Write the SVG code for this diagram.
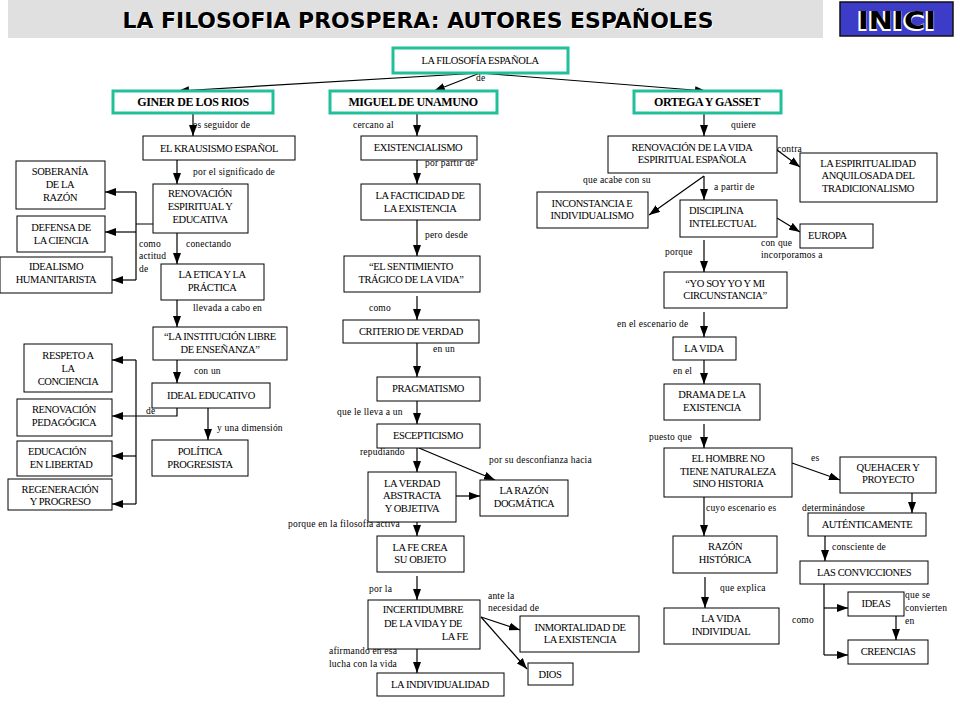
<svg xmlns="http://www.w3.org/2000/svg" width="960" height="720" viewBox="0 0 960 720">
<defs>
<marker id="a" markerWidth="11" markerHeight="8" refX="11" refY="4" orient="auto" markerUnits="userSpaceOnUse"><path d="M0,0 L11,4 L0,8 z" fill="#000"/></marker>
</defs>
<style>
.n rect{fill:#fff;stroke:#000;stroke-width:1}
.k rect{fill:#fff;stroke:#22c09a;stroke-width:3}
.n text,.k text,.l text{font-family:"Liberation Serif","Times New Roman",serif;fill:#000}
.n text,.k text{font-size:10.5px;text-anchor:middle;letter-spacing:-0.4px}
.k .b{font-size:12px;font-weight:bold}
.l text{font-size:9.5px;letter-spacing:0.2px}
.c path{stroke:#000;stroke-width:1.2;fill:none}
.c .ar{marker-end:url(#a)}
.h{font-family:"DejaVu Sans",Verdana,sans-serif;font-weight:bold;text-anchor:middle}
</style>
<rect width="960" height="720" fill="#fff"/>
<g id="header">
<rect x="8" y="0" width="815" height="38" fill="#e0e0e0"/>
<text class="h" x="419" y="29" font-size="21" textLength="591" lengthAdjust="spacingAndGlyphs" fill="#fff">LA FILOSOFIA PROSPERA: AUTORES ESPAÑOLES</text>
<text class="h" x="418" y="28" font-size="21" textLength="591" lengthAdjust="spacingAndGlyphs" fill="#000">LA FILOSOFIA PROSPERA: AUTORES ESPAÑOLES</text>
</g>
<g id="inici">
<rect x="840" y="2" width="113" height="34" fill="#3c3cc8" stroke="#111" stroke-width="1.5"/>
<text class="h" x="896" y="30" font-size="24" textLength="78" lengthAdjust="spacingAndGlyphs" fill="#fff" stroke="#fff" stroke-width="2">INICI</text>
<text class="h" x="897" y="29" font-size="24" textLength="78" lengthAdjust="spacingAndGlyphs" fill="#000">INICI</text>
</g>

<g class="c" id="connectors">
<path class="ar" d="M480,73 L178,91"/>
<path class="ar" d="M480,73 L434,91"/>
<path class="ar" d="M480,73 L706,91"/>
<path class="ar" d="M193,113 V136"/>
<path class="ar" d="M177,160 V184"/>
<path d="M153,224 H136 M136,192 V280"/>
<path class="ar" d="M136,192 H105"/>
<path class="ar" d="M136,232 H105"/>
<path class="ar" d="M136,280 H112"/>
<path class="ar" d="M177,233 V264"/>
<path class="ar" d="M177,300 V327"/>
<path class="ar" d="M177,360 V383"/>
<path class="ar" d="M177,408 V416 H112"/>
<path d="M136,360 V504"/>
<path class="ar" d="M136,360 H112"/>
<path class="ar" d="M136,456 H112"/>
<path class="ar" d="M136,504 H112"/>
<path class="ar" d="M208,408 V440"/>
<path class="ar" d="M417,113 V136"/>
<path class="ar" d="M417,160 V184"/>
<path class="ar" d="M417,220 V256"/>
<path class="ar" d="M417,296 V320"/>
<path class="ar" d="M417,343 V377"/>
<path class="ar" d="M417,401 V424"/>
<path class="ar" d="M417,448 V472"/>
<path class="ar" d="M419,448 L495,480"/>
<path class="ar" d="M456,496 H480"/>
<path class="ar" d="M417,522 V536"/>
<path class="ar" d="M417,576 V600"/>
<path class="ar" d="M417,649 V673"/>
<path class="ar" d="M481,617 L520,630"/>
<path class="ar" d="M481,617 L527,669"/>
<path class="ar" d="M704,113 V136"/>
<path class="ar" d="M777,150 L800,167"/>
<path class="ar" d="M704,176 L649,215"/>
<path class="ar" d="M704,176 V200"/>
<path class="ar" d="M777,218 L800,232"/>
<path class="ar" d="M704,240 V272"/>
<path class="ar" d="M704,312 V337"/>
<path class="ar" d="M704,360 V384"/>
<path class="ar" d="M704,424 V448"/>
<path class="ar" d="M792,463 L840,480"/>
<path class="ar" d="M912,493 V513"/>
<path class="ar" d="M704,497 V536"/>
<path class="ar" d="M705,577 V608"/>
<path class="ar" d="M825,536 V561"/>
<path d="M824,584 V655"/>
<path class="ar" d="M824,608 H848"/>
<path class="ar" d="M824,655 H848"/>
<path class="ar" d="M896,616 V640"/>
</g>

<g class="l" id="labels">
<text x="476" y="81">de</text>
<text x="193" y="128">es seguidor de</text>
<text x="193" y="175">por el significado de</text>
<text x="139" y="247">como</text>
<text x="139" y="259">actitud</text>
<text x="139" y="272">de</text>
<text x="186" y="247">conectando</text>
<text x="193" y="311">llevada a cabo en</text>
<text x="194" y="374">con un</text>
<text x="146" y="414">de</text>
<text x="217" y="431">y una dimensión</text>
<text x="353" y="128">cercano al</text>
<text x="425" y="166">por partir de</text>
<text x="425" y="238">pero desde</text>
<text x="369" y="311">como</text>
<text x="433" y="352">en un</text>
<text x="337" y="415">que le lleva a un</text>
<text x="360" y="455">repudiando</text>
<text x="489" y="463">por su desconfianza hacia</text>
<text x="288" y="527">porque en la filosofía activa</text>
<text x="369" y="592">por la</text>
<text x="488" y="599">ante la</text>
<text x="488" y="611">necesidad de</text>
<text x="329" y="654">afirmando en esa</text>
<text x="329" y="667">lucha con la vida</text>
<text x="731" y="128">quiere</text>
<text x="777" y="152">contra</text>
<text x="583" y="183">que acabe con su</text>
<text x="714" y="190">a partir de</text>
<text x="761" y="246">con que</text>
<text x="761" y="258">incorporamos a</text>
<text x="665" y="255">porque</text>
<text x="617" y="327">en el escenario de</text>
<text x="673" y="374">en el</text>
<text x="649" y="440">puesto que</text>
<text x="811" y="461">es</text>
<text x="706" y="511">cuyo escenario es</text>
<text x="802" y="511">determinándose</text>
<text x="832" y="550">consciente de</text>
<text x="720" y="591">que explica</text>
<text x="792" y="623">como</text>
<text x="905" y="598">que se</text>
<text x="905" y="611">convierten</text>
<text x="905" y="624">en</text>
</g>

<g class="k" id="n-filosofia"><rect x="393" y="48" width="175" height="25"/><text x="480" y="64">LA FILOSOFÍA ESPAÑOLA</text></g>
<g class="k" id="n-giner"><rect x="113" y="91" width="160" height="22"/><text class="b" x="193" y="106">GINER DE LOS RIOS</text></g>
<g class="k" id="n-miguel"><rect x="330" y="91" width="167" height="22"/><text class="b" x="413" y="106">MIGUEL DE UNAMUNO</text></g>
<g class="k" id="n-ortega"><rect x="634" y="91" width="147" height="22"/><text class="b" x="707" y="106">ORTEGA Y GASSET</text></g>

<g class="n" id="n-krausismo"><rect x="143" y="136" width="152" height="24"/><text x="219" y="152">EL KRAUSISMO ESPAÑOL</text></g>
<g class="n" id="n-renovesp"><rect x="153" y="184" width="95" height="49"/><text x="200" y="197">RENOVACIÓN</text><text x="200" y="210">ESPIRITUAL Y</text><text x="200" y="223">EDUCATIVA</text></g>
<g class="n" id="n-soberania"><rect x="16" y="161" width="89" height="48"/><text x="60" y="175">SOBERANÍA</text><text x="60" y="188">DE LA</text><text x="60" y="201">RAZÓN</text></g>
<g class="n" id="n-defensa"><rect x="17" y="216" width="88" height="36"/><text x="61" y="231">DEFENSA DE</text><text x="61" y="244">LA CIENCIA</text></g>
<g class="n" id="n-idealismo"><rect x="0" y="257" width="112" height="36"/><text x="56" y="270">IDEALISMO</text><text x="56" y="283">HUMANITARISTA</text></g>
<g class="n" id="n-etica"><rect x="161" y="264" width="103" height="36"/><text x="212" y="278">LA ETICA Y LA</text><text x="212" y="291">PRÁCTICA</text></g>
<g class="n" id="n-institucion"><rect x="153" y="327" width="134" height="33"/><text x="220" y="340">“LA INSTITUCIÓN LIBRE</text><text x="220" y="353">DE ENSEÑANZA”</text></g>
<g class="n" id="n-ideal"><rect x="152" y="383" width="118" height="25"/><text x="211" y="399">IDEAL EDUCATIVO</text></g>
<g class="n" id="n-respeto"><rect x="24" y="344" width="88" height="48"/><text x="68" y="359">RESPETO A</text><text x="68" y="372">LA</text><text x="68" y="385">CONCIENCIA</text></g>
<g class="n" id="n-renovped"><rect x="17" y="399" width="95" height="37"/><text x="64" y="413">RENOVACIÓN</text><text x="64" y="426">PEDAGÓGICA</text></g>
<g class="n" id="n-educacion"><rect x="17" y="441" width="95" height="35"/><text x="57" y="455">EDUCACIÓN</text><text x="61" y="468">EN LIBERTAD</text></g>
<g class="n" id="n-regeneracion"><rect x="8" y="479" width="104" height="31"/><text x="60" y="493">REGENERACIÓN</text><text x="60" y="505">Y PROGRESO</text></g>
<g class="n" id="n-politica"><rect x="152" y="440" width="96" height="36"/><text x="200" y="455">POLÍTICA</text><text x="200" y="468">PROGRESISTA</text></g>

<g class="n" id="n-existencialismo"><rect x="361" y="136" width="116" height="24"/><text x="418" y="151">EXISTENCIALISMO</text></g>
<g class="n" id="n-facticidad"><rect x="361" y="184" width="119" height="36"/><text x="420" y="199">LA FACTICIDAD DE</text><text x="420" y="212">LA EXISTENCIA</text></g>
<g class="n" id="n-sentimiento"><rect x="344" y="256" width="136" height="36"/><text x="411" y="270">“EL SENTIMIENTO</text><text x="411" y="283">TRÁGICO DE LA VIDA”</text></g>
<g class="n" id="n-criterio"><rect x="343" y="320" width="136" height="23"/><text x="411" y="335">CRITERIO DE VERDAD</text></g>
<g class="n" id="n-pragmatismo"><rect x="377" y="377" width="103" height="24"/><text x="428" y="392">PRAGMATISMO</text></g>
<g class="n" id="n-escepticismo"><rect x="377" y="424" width="103" height="24"/><text x="428" y="439">ESCEPTICISMO</text></g>
<g class="n" id="n-verdad"><rect x="368" y="472" width="88" height="50"/><text x="412" y="487">LA VERDAD</text><text x="412" y="499">ABSTRACTA</text><text x="412" y="512">Y OBJETIVA</text></g>
<g class="n" id="n-razondog"><rect x="480" y="480" width="88" height="36"/><text x="524" y="494">LA RAZÓN</text><text x="524" y="507">DOGMÁTICA</text></g>
<g class="n" id="n-fe"><rect x="377" y="536" width="87" height="36"/><text x="420" y="551">LA FE CREA</text><text x="420" y="563">SU OBJETO</text></g>
<g class="n" id="n-incertidumbre"><rect x="368" y="600" width="112" height="49"/><text x="423" y="613">INCERTIDUMBRE</text><text x="423" y="627">DE LA VIDA Y DE</text><text x="468" y="640" style="text-anchor:end">LA FE</text></g>
<g class="n" id="n-individualidad"><rect x="377" y="673" width="127" height="23"/><text x="440" y="688">LA INDIVIDUALIDAD</text></g>
<g class="n" id="n-inmortalidad"><rect x="520" y="616" width="119" height="36"/><text x="580" y="631">INMORTALIDAD DE</text><text x="580" y="643">LA EXISTENCIA</text></g>
<g class="n" id="n-dios"><rect x="528" y="663" width="45" height="22"/><text x="550" y="678">DIOS</text></g>

<g class="n" id="n-renovvida"><rect x="608" y="136" width="169" height="37"/><text x="692" y="151">RENOVACIÓN DE LA VIDA</text><text x="692" y="163">ESPIRITUAL ESPAÑOLA</text></g>
<g class="n" id="n-espiritualidad"><rect x="800" y="153" width="137" height="49"/><text x="868" y="167">LA ESPIRITUALIDAD</text><text x="868" y="179">ANQUILOSADA DEL</text><text x="868" y="192">TRADICIONALISMO</text></g>
<g class="n" id="n-inconstancia"><rect x="537" y="192" width="111" height="36"/><text x="592" y="207">INCONSTANCIA E</text><text x="592" y="219">INDIVIDUALISMO</text></g>
<g class="n" id="n-disciplina"><rect x="680" y="200" width="97" height="37"/><text x="689" y="214" style="text-anchor:start">DISCIPLINA</text><text x="689" y="227" style="text-anchor:start">INTELECTUAL</text></g>
<g class="n" id="n-europa"><rect x="800" y="224" width="73" height="24"/><text x="808" y="239" style="text-anchor:start">EUROPA</text></g>
<g class="n" id="n-yosoy"><rect x="664" y="272" width="123" height="36"/><text x="725" y="287">“YO SOY YO Y MI</text><text x="725" y="299">CIRCUNSTANCIA”</text></g>
<g class="n" id="n-lavida"><rect x="673" y="337" width="63" height="23"/><text x="704" y="352">LA VIDA</text></g>
<g class="n" id="n-drama"><rect x="664" y="384" width="96" height="36"/><text x="712" y="398">DRAMA DE LA</text><text x="712" y="411">EXISTENCIA</text></g>
<g class="n" id="n-hombre"><rect x="664" y="448" width="128" height="49"/><text x="728" y="462">EL HOMBRE NO</text><text x="728" y="475">TIENE NATURALEZA</text><text x="728" y="487">SINO HISTORIA</text></g>
<g class="n" id="n-quehacer"><rect x="840" y="457" width="96" height="36"/><text x="888" y="471">QUEHACER Y</text><text x="888" y="483">PROYECTO</text></g>
<g class="n" id="n-autenticamente"><rect x="808" y="513" width="118" height="23"/><text x="867" y="528">AUTÉNTICAMENTE</text></g>
<g class="n" id="n-razonhist"><rect x="673" y="536" width="104" height="37"/><text x="725" y="550">RAZÓN</text><text x="725" y="563">HISTÓRICA</text></g>
<g class="n" id="n-convicciones"><rect x="800" y="561" width="128" height="23"/><text x="864" y="576">LAS CONVICCIONES</text></g>
<g class="n" id="n-vidaind"><rect x="664" y="608" width="115" height="36"/><text x="721" y="622">LA VIDA</text><text x="721" y="635">INDIVIDUAL</text></g>
<g class="n" id="n-ideas"><rect x="848" y="592" width="56" height="24"/><text x="876" y="607">IDEAS</text></g>
<g class="n" id="n-creencias"><rect x="848" y="640" width="80" height="24"/><text x="888" y="655">CREENCIAS</text></g>
</svg>
